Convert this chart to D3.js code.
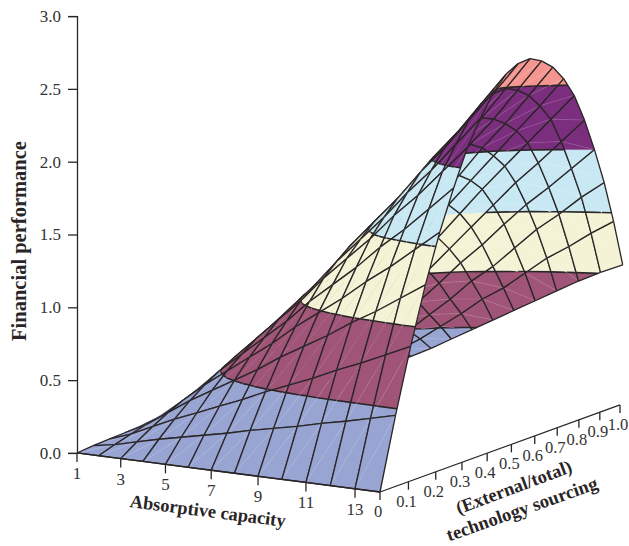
<!DOCTYPE html>
<html>
<head>
<meta charset="utf-8">
<script src="https://cdn.jsdelivr.net/npm/d3@7"></script>
<style>
  html, body { margin: 0; padding: 0; background: #fff; }
  text { font-family: "Liberation Serif", serif; fill: #333; }
</style>
</head>
<body>
<div id="chart"></div>
<script>
const capacity = [1, 2, 3, 4, 5, 6, 7, 8, 9, 10, 11, 12, 13, 14];
const sourcing = [0, .05, .1, .15, .2, .25, .3, .35, .4, .45, .5, .55, .6, .65, .7, .75, .8, .85, .9, .95, 1];
const capacityTicks = [1, 3, 5, 7, 9, 11, 13];
const sourcingTicks = [0, 0.1, 0.2, 0.3, 0.4, 0.5, 0.6, 0.7, 0.8, 0.9, 1.0];
const performanceTicks = [0, 0.5, 1.0, 1.5, 2.0, 2.5, 3.0];
const bandLevels = [0.5, 1.0, 1.5, 2.0, 2.5];
const bandColors = ["#98a5d3", "#a05578", "#f4f3d6", "#c8e9f4", "#7b2d7e", "#f4958f"];

// one row per sourcing value, one column per capacity value
const performance = [
  [0, 0, 0, 0, 0, 0, 0, 0, 0, 0, 0, 0, 0, 0],
  [.02, .046, .083, .12, .152, .184, .216, .253, .285, .317, .354, .386, .423, .46],
  [.035, .088, .158, .229, .29, .352, .414, .484, .546, .607, .678, .739, .81, .88],
  [.05, .126, .227, .328, .416, .504, .592, .693, .781, .869, .97, 1.058, 1.159, 1.26],
  [.064, .159, .286, .413, .525, .636, .747, .875, .986, 1.097, 1.224, 1.336, 1.463, 1.59],
  [.075, .187, .337, .486, .617, .748, .879, 1.029, 1.159, 1.29, 1.44, 1.571, 1.72, 1.87],
  [.085, .213, .383, .554, .703, .852, 1.001, 1.172, 1.321, 1.47, 1.64, 1.789, 1.96, 2.13],
  [.093, .232, .418, .603, .766, .928, 1.09, 1.276, 1.438, 1.601, 1.786, 1.949, 2.134, 2.32],
  [.1, .249, .448, .647, .822, .996, 1.17, 1.37, 1.544, 1.718, 1.917, 2.092, 2.291, 2.49],
  [.104, .261, .47, .679, .861, 1.044, 1.227, 1.436, 1.618, 1.801, 2.01, 2.192, 2.401, 2.61],
  [.107, .268, .482, .697, .884, 1.072, 1.26, 1.474, 1.662, 1.849, 2.064, 2.251, 2.466, 2.68],
  [.108, .271, .488, .705, .894, 1.084, 1.274, 1.491, 1.68, 1.87, 2.087, 2.276, 2.493, 2.71],
  [.108, .269, .484, .699, .888, 1.076, 1.264, 1.48, 1.668, 1.856, 2.071, 2.26, 2.475, 2.69],
  [.106, .264, .475, .686, .871, 1.056, 1.241, 1.452, 1.637, 1.822, 2.033, 2.218, 2.429, 2.64],
  [.077, .23, .421, .625, .816, .995, 1.186, 1.39, 1.581, 1.772, 1.964, 2.155, 2.346, 2.55],
  [.073, .206, .387, .581, .75, .932, 1.113, 1.307, 1.5, 1.694, 1.876, 2.057, 2.239, 2.42],
  [.067, .178, .335, .513, .68, .847, 1.026, 1.204, 1.383, 1.561, 1.739, 1.896, 2.063, 2.23],
  [.05, .15, .29, .44, .59, .75, .91, 1.08, 1.23, 1.40, 1.56, 1.70, 1.85, 2.00],
  [.035, .122, .235, .365, .49, .63, .765, .92, 1.045, 1.20, 1.355, 1.48, 1.62, 1.74],
  [.029, .10, .19, .30, .40, .515, .63, .758, .858, .987, 1.115, 1.216, 1.33, 1.43],
  [.02, .07, .14, .22, .30, .39, .48, .57, .66, .75, .84, .93, 1.01, 1.08]
];

const width = 629, height = 546;
const ink = "#2a2526";
const svg = d3.select("#chart").append("svg").attr("width", width).attr("height", height);

// perspective of the box: near corner is capacity 14, sourcing 0
const uScale = d3.scaleLinear().domain([14, 1]).range([0, 1]);
const depthS = d3.scaleLinear().domain([0, 1]).range([0, 0.21]);
const depthU = d3.scaleLinear().domain([0, 1]).range([0, 0.078]);
const sx = d3.scaleLinear().domain([0, 1]).range([380, 750.2]);
const ux = d3.scaleLinear().domain([0, 1]).range([0, -297]);
const sy = d3.scaleLinear().domain([0, 1]).range([492, 490]);
const uy = d3.scaleLinear().domain([0, 1]).range([0, -3.7]);
const zy = d3.scaleLinear().domain([0, 3]).range([0, -471]);

function project(c, s, z) {
  const u = uScale(c);
  const w = 1 + depthS(s) + depthU(u);
  return [
    (sx(s) + ux(u)) / w + 2.5 * z * (1 - u),
    (sy(s) + uy(u) + zy(z)) / w
  ];
}
const line = d3.line();

function clip(poly, level, keepAbove) {
  const out = [];
  poly.forEach((p, i) => {
    const q = poly[(i + 1) % poly.length];
    const pin = keepAbove ? p[2] >= level : p[2] <= level;
    const qin = keepAbove ? q[2] >= level : q[2] <= level;
    if (pin) out.push(p);
    if (pin !== qin) {
      const t = (level - p[2]) / (q[2] - p[2]);
      out.push([p[0] + t * (q[0] - p[0]), p[1] + t * (q[1] - p[1]), level]);
    }
  });
  return out;
}
const toPath = poly => line(poly.map(p => project(p[0], p[1], p[2])));

const layer = svg.append("g");
function drawTriangle(tri) {
  [-Infinity].concat(bandLevels).forEach((lo, b) => {
    const hi = b < bandLevels.length ? bandLevels[b] : Infinity;
    let poly = tri;
    if (lo > -Infinity) poly = clip(poly, lo, true);
    if (poly.length && hi < Infinity) poly = clip(poly, hi, false);
    if (poly.length > 2) {
      layer.append("path").attr("d", toPath(poly) + "Z")
        .attr("fill", bandColors[b]).attr("stroke", bandColors[b]).attr("stroke-width", 0.4);
    }
  });
  bandLevels.forEach(level => {
    const pts = clip(tri, level, true).filter(p => p[2] === level);
    if (pts.length === 2) {
      layer.append("path").attr("d", toPath(pts)).attr("fill", "none")
        .attr("stroke", ink).attr("stroke-width", 1.6);
    }
  });
}
function drawEdge(a, b) {
  layer.append("path").attr("d", toPath([a, b])).attr("fill", "none")
    .attr("stroke", ink).attr("stroke-width", 1.3);
}

// far cells first so the near ones cover them
capacity.slice(0, -1).forEach((c, j) => {
  d3.range(sourcing.length - 2, -1, -1).forEach(i => {
    const a = [c, sourcing[i], performance[i][j]];
    const b = [capacity[j + 1], sourcing[i], performance[i][j + 1]];
    const d = [capacity[j + 1], sourcing[i + 1], performance[i + 1][j + 1]];
    const e = [c, sourcing[i + 1], performance[i + 1][j]];
    drawTriangle([a, e, d]);
    drawTriangle([a, d, b]);
    layer.append("path").attr("d", toPath([a, d])).attr("fill", "none")
      .attr("stroke", "#fff").attr("stroke-width", 0.5).attr("opacity", 0.22);
    drawEdge(a, b); drawEdge(b, d); drawEdge(d, e); drawEdge(e, a);
  });
});

// axes
const axisY = d3.scaleLinear().domain([0, 3]).range([project(1, 0, 0)[1], project(1, 0, 3)[1]]);
const yAxis = svg.append("g").attr("transform", "translate(77,0)")
  .call(d3.axisLeft(axisY).tickValues(performanceTicks).tickFormat(d3.format(".1f")).tickSize(9).tickPadding(7));
yAxis.selectAll("path,line").attr("stroke", ink).attr("stroke-width", 1.3);
yAxis.selectAll("text").attr("font-size", 17).attr("font-family", "Liberation Serif").attr("fill", "#333");

const axisLine = (a, b) => svg.append("path").attr("d", line([a, b])).attr("stroke", ink).attr("stroke-width", 1.3).attr("fill", "none");
axisLine(project(1, 0, 0), project(14, 0, 0));
axisLine(project(14, 0, 0), project(14, 1, 0));
capacityTicks.forEach(c => {
  const p = project(c, 0, 0);
  axisLine(p, [p[0], p[1] + 9]);
  svg.append("text").attr("x", p[0]).attr("y", p[1] + 26).attr("text-anchor", "middle").attr("font-size", 17).text(c);
});
sourcingTicks.forEach(s => {
  const p = project(14, s, 0);
  axisLine(p, [p[0], p[1] + 8]);
  svg.append("text").attr("x", p[0] - 2).attr("y", p[1] + 25).attr("text-anchor", "middle").attr("font-size", 16.5)
    .text(s === 0 ? "0" : d3.format(".1f")(s));
});

const title = (t, x, y, angle, size) => svg.append("text")
  .attr("transform", `translate(${x},${y}) rotate(${angle})`)
  .attr("text-anchor", "middle").attr("font-weight", "bold").attr("font-size", size).style("fill", ink).text(t);
title("Financial performance", 26, 241, -90, 20.5);
title("Absorptive capacity", 207, 517, 7.3, 18.4);
title("(External/total)", 516, 493, -20.5, 18.5);
title("technology sourcing", 524, 515, -19.5, 18.7);
</script>
</body>
</html>
